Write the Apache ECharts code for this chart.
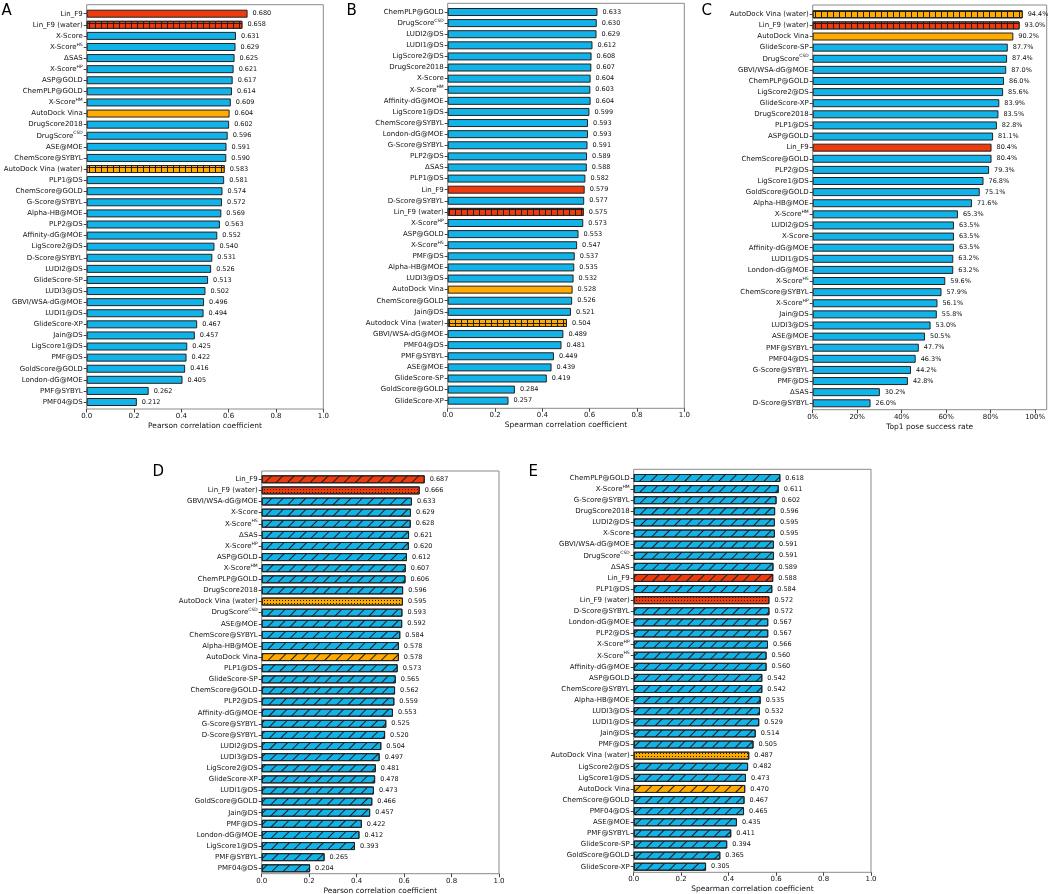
<!DOCTYPE html>
<html><head><meta charset="utf-8">
<script src="https://cdn.jsdelivr.net/npm/echarts@6/dist/echarts.min.js"></script>
<style>html,body{margin:0;padding:0;background:#fff}#c{width:1050px;height:894px}</style>
</head><body><div id="c"></div>
<script>
// ---------------- data ----------------
const catsA = ['Lin_F9','Lin_F9 (water)','X-Score','X-Score^HS','ΔSAS','X-Score^HP','ASP@GOLD','ChemPLP@GOLD','X-Score^HM','AutoDock Vina','DrugScore2018','DrugScore^CSD','ASE@MOE','ChemScore@SYBYL','AutoDock Vina (water)','PLP1@DS','ChemScore@GOLD','G-Score@SYBYL','Alpha-HB@MOE','PLP2@DS','Affinity-dG@MOE','LigScore2@DS','D-Score@SYBYL','LUDI2@DS','GlideScore-SP','LUDI3@DS','GBVI/WSA-dG@MOE','LUDI1@DS','GlideScore-XP','Jain@DS','LigScore1@DS','PMF@DS','GoldScore@GOLD','London-dG@MOE','PMF@SYBYL','PMF04@DS'];
const valsA = [0.680,0.658,0.631,0.629,0.625,0.621,0.617,0.614,0.609,0.604,0.602,0.596,0.591,0.590,0.583,0.581,0.574,0.572,0.569,0.563,0.552,0.540,0.531,0.526,0.513,0.502,0.496,0.494,0.467,0.457,0.425,0.422,0.416,0.405,0.262,0.212];

const catsB = ['ChemPLP@GOLD','DrugScore^CSD','LUDI2@DS','LUDI1@DS','LigScore2@DS','DrugScore2018','X-Score','X-Score^HM','Affinity-dG@MOE','LigScore1@DS','ChemScore@SYBYL','London-dG@MOE','G-Score@SYBYL','PLP2@DS','ΔSAS','PLP1@DS','Lin_F9','D-Score@SYBYL','Lin_F9 (water)','X-Score^HP','ASP@GOLD','X-Score^HS','PMF@DS','Alpha-HB@MOE','LUDI3@DS','AutoDock Vina','ChemScore@GOLD','Jain@DS','Autodock Vina (water)','GBVI/WSA-dG@MOE','PMF04@DS','PMF@SYBYL','ASE@MOE','GlideScore-SP','GoldScore@GOLD','GlideScore-XP'];
const valsB = [0.633,0.630,0.629,0.612,0.608,0.607,0.604,0.603,0.604,0.599,0.593,0.593,0.591,0.589,0.588,0.582,0.579,0.577,0.575,0.573,0.553,0.547,0.537,0.535,0.532,0.528,0.526,0.521,0.504,0.489,0.481,0.449,0.439,0.419,0.284,0.257];

const catsC = ['AutoDock Vina (water)','Lin_F9 (water)','AutoDock Vina','GlideScore-SP','DrugScore^CSD','GBVI/WSA-dG@MOE','ChemPLP@GOLD','LigScore2@DS','GlideScore-XP','DrugScore2018','PLP1@DS','ASP@GOLD','Lin_F9','ChemScore@GOLD','PLP2@DS','LigScore1@DS','GoldScore@GOLD','Alpha-HB@MOE','X-Score^HM','LUDI2@DS','X-Score','Affinity-dG@MOE','LUDI1@DS','London-dG@MOE','X-Score^HS','ChemScore@SYBYL','X-Score^HP','Jain@DS','LUDI3@DS','ASE@MOE','PMF@SYBYL','PMF04@DS','G-Score@SYBYL','PMF@DS','ΔSAS','D-Score@SYBYL'];
const valsC = [94.4,93.0,90.2,87.7,87.4,87.0,86.0,85.6,83.9,83.5,82.8,81.1,80.4,80.4,79.3,76.8,75.1,71.6,65.3,63.5,63.5,63.5,63.2,63.2,59.6,57.9,56.1,55.8,53.0,50.5,47.7,46.3,44.2,42.8,30.2,26.0];

const catsD = ['Lin_F9','Lin_F9 (water)','GBVI/WSA-dG@MOE','X-Score','X-Score^HS','ΔSAS','X-Score^HP','ASP@GOLD','X-Score^HM','ChemPLP@GOLD','DrugScore2018','AutoDock Vina (water)','DrugScore^CSD','ASE@MOE','ChemScore@SYBYL','Alpha-HB@MOE','AutoDock Vina','PLP1@DS','GlideScore-SP','ChemScore@GOLD','PLP2@DS','Affinity-dG@MOE','G-Score@SYBYL','D-Score@SYBYL','LUDI2@DS','LUDI3@DS','LigScore2@DS','GlideScore-XP','LUDI1@DS','GoldScore@GOLD','Jain@DS','PMF@DS','London-dG@MOE','LigScore1@DS','PMF@SYBYL','PMF04@DS'];
const valsD = [0.687,0.666,0.633,0.629,0.628,0.621,0.620,0.612,0.607,0.606,0.596,0.595,0.593,0.592,0.584,0.578,0.578,0.573,0.565,0.562,0.559,0.553,0.525,0.520,0.504,0.497,0.481,0.478,0.473,0.466,0.457,0.422,0.412,0.393,0.265,0.204];

const catsE = ['ChemPLP@GOLD','X-Score^HM','G-Score@SYBYL','DrugScore2018','LUDI2@DS','X-Score','GBVI/WSA-dG@MOE','DrugScore^CSD','ΔSAS','Lin_F9','PLP1@DS','Lin_F9 (water)','D-Score@SYBYL','London-dG@MOE','PLP2@DS','X-Score^HP','X-Score^HS','Affinity-dG@MOE','ASP@GOLD','ChemScore@SYBYL','Alpha-HB@MOE','LUDI3@DS','LUDI1@DS','Jain@DS','PMF@DS','AutoDock Vina (water)','LigScore2@DS','LigScore1@DS','AutoDock Vina','ChemScore@GOLD','PMF04@DS','ASE@MOE','PMF@SYBYL','GlideScore-SP','GoldScore@GOLD','GlideScore-XP'];
const valsE = [0.618,0.611,0.602,0.596,0.595,0.595,0.591,0.591,0.589,0.588,0.584,0.572,0.572,0.567,0.567,0.566,0.560,0.560,0.542,0.542,0.535,0.532,0.529,0.514,0.505,0.487,0.482,0.473,0.470,0.467,0.465,0.435,0.411,0.394,0.365,0.305];

const ticksR = [0, 0.2, 0.4, 0.6, 0.8, 1.0];
const ticksPct = [0, 20, 40, 60, 80, 100];
const nameP = 'Pearson correlation coefficient';
const nameS = 'Spearman correlation coefficient';
const nameT = 'Top1 pose success rate';

// ---------------- styles / layout ----------------
const FONT = 'DejaVu Sans';
const BLUE = '#12b3e8', RED = '#ee3b0e', ORANGE = '#ffab00', EDGE = '#222';
function baseColor(n){ if (/^Lin_F9/.test(n)) return RED; if (/^Auto[dD]ock Vina/.test(n)) return ORANGE; return BLUE; }
function isWater(n){ return /\(water\)/.test(n); }
const gridHatch = c => ({symbol:'rect', color:c, backgroundColor:'#1e1e1e', dashArrayX:[5,1], dashArrayY:[5,1]});
const slashHatch = {symbol:'rect', color:'#1a1a1a', dashArrayX:[1,0], dashArrayY:[1,7], rotation:-Math.PI/4};
const dotHatch = {symbol:'rect', color:'#1a1a1a', dashArrayX:[1,2], dashArrayY:[1,2]};

const panels = [
  {letter:'A', cats:catsA, vals:valsA, hatch:'grid', max:1, ticks:ticksR, name:nameP, pct:false,
   frame:{l:86.7,r:323.3,t:4.7,b:409}, data:{t:8.15,h:399.4}, lp:[1.5,4]},
  {letter:'B', cats:catsB, vals:valsB, hatch:'grid', max:1, ticks:ticksR, name:nameS, pct:false,
   frame:{l:447.7,r:684.3,t:3.3,b:408.3}, data:{t:6.45,h:399.8}, lp:[346.5,4]},
  {letter:'C', cats:catsC, vals:valsC, hatch:'grid', max:105.2, ticks:ticksPct, name:nameT, pct:true,
   frame:{l:812.7,r:1046.7,t:5,b:409.7}, data:{t:8.74,h:400.1}, lp:[701.5,4]},
  {letter:'D', cats:catsD, vals:valsD, hatch:'slash', max:1, ticks:ticksR, name:nameP, pct:false,
   frame:{l:261.7,r:499,t:471,b:873.7}, data:{t:473.74,h:400.1}, lp:[152.5,465]},
  {letter:'E', cats:catsE, vals:valsE, hatch:'slash', max:1, ticks:ticksR, name:nameS, pct:false,
   frame:{l:633.7,r:871,t:469.3,b:872.3}, data:{t:472.45,h:399.8}, lp:[528.5,465]}
];

function decalFor(p, n){
  const c = baseColor(n);
  if (p.hatch === 'grid') return isWater(n) ? gridHatch(c) : null;
  return isWater(n) ? dotHatch : slashHatch;
}
const supFmt = n => n.replace(/\^(\w+)/, '{sup|$1}');

const option = {animation:false, backgroundColor:'#fff', title:[], grid:[], xAxis:[], yAxis:[], series:[]};
panels.forEach((p, k) => {
  const fg = 2*k, dg = 2*k+1;
  option.title.push({text:p.letter, left:p.lp[0], top:p.lp[1], padding:0,
    textStyle:{fontSize:15, fontWeight:'normal', fontFamily:FONT, color:'#000'}});
  option.grid.push({left:p.frame.l, top:p.frame.t, width:p.frame.r-p.frame.l, height:p.frame.b-p.frame.t,
    show:true, borderColor:'#8a8a8a', borderWidth:1, backgroundColor:'transparent', containLabel:false, outerBoundsMode:'none'});
  option.grid.push({left:p.frame.l, top:p.data.t, width:p.frame.r-p.frame.l, height:p.data.h,
    show:false, containLabel:false, outerBoundsMode:'none'});
  option.xAxis.push({gridIndex:fg, type:'value', min:0, max:p.max,
    axisLine:{show:false}, splitLine:{show:false},
    axisTick:{show:true, length:3.5, customValues:p.ticks, lineStyle:{color:'#444', width:1}},
    axisLabel:{customValues:p.ticks, fontSize:7, fontFamily:FONT, color:'#111', margin:3.5,
      formatter: v => p.pct ? Math.round(v)+'%' : v.toFixed(1)},
    name:p.name, nameLocation:'middle', nameGap:13,
    nameTextStyle:{fontSize:7.5, fontFamily:FONT, color:'#111'}});
  option.xAxis.push({gridIndex:dg, type:'value', min:0, max:p.max, show:false});
  option.yAxis.push({gridIndex:fg, type:'value', min:0, max:1, show:false});
  option.yAxis.push({gridIndex:dg, type:'category', data:p.cats, inverse:true,
    axisLine:{show:false},
    axisTick:{show:true, alignWithLabel:true, interval:0, length:3, lineStyle:{color:'#444', width:1}},
    axisLabel:{interval:0, fontSize:7, fontFamily:FONT, color:'#111', margin:4, lineHeight:10,
      formatter:supFmt, rich:{sup:{fontSize:4.5, fontFamily:FONT, color:'#111', verticalAlign:'top'}}}});
  option.series.push({type:'bar', xAxisIndex:dg, yAxisIndex:dg, barWidth:8,
    data:p.vals.map((v, i) => {
      const n = p.cats[i];
      const st = {color:baseColor(n), borderColor:EDGE, borderWidth:1};
      const d = decalFor(p, n); if (d) st.decal = d;
      return {value:v, itemStyle:st};
    }),
    label:{show:true, position:'right', distance:5, fontSize:6.5, fontFamily:FONT, color:'#111',
      formatter: q => p.pct ? q.value.toFixed(1)+'%' : q.value.toFixed(3)}});
});
const chart = echarts.init(document.getElementById('c'), null, {renderer:'canvas'});
chart.setOption(option);
</script></body></html>
